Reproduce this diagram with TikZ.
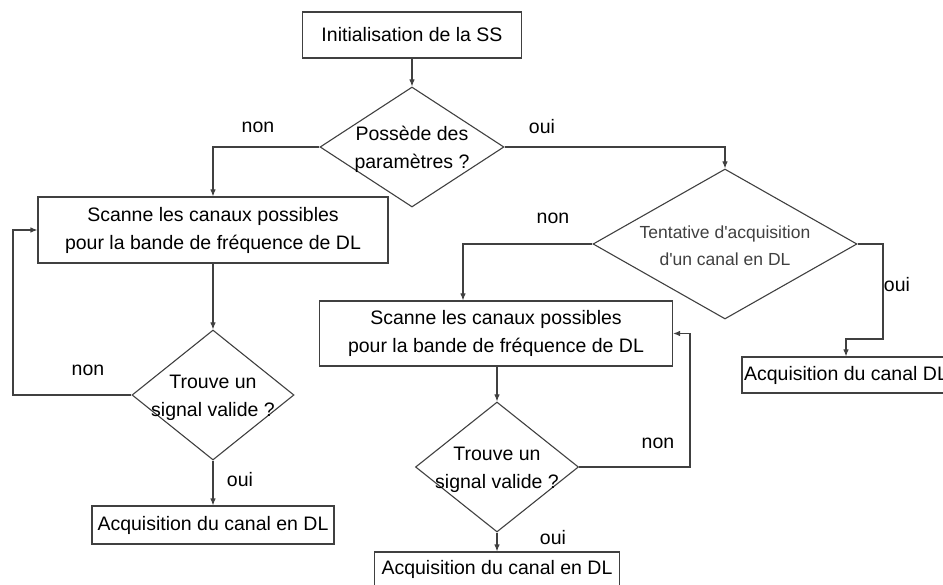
\documentclass[tikz,border=0pt]{standalone}
\usepackage{fontspec}
\setmainfont{Liberation Sans}
\usetikzlibrary{positioning,shapes.geometric,arrows.meta}

\begin{document}
\begin{tikzpicture}[x=1pt,y=-1pt,
  box/.style={draw=black!75, line width=1.1pt, rectangle, inner sep=0pt, align=center, font=\fontsize{19.5}{28}\selectfont},
  decision/.style={draw=black!75, line width=1.1pt, diamond, inner sep=0pt},
  dtext/.style={align=center, font=\fontsize{19.5}{28}\selectfont},
  lbl/.style={font=\fontsize{19.5}{24}\selectfont},
  link/.style={draw=black!75, line width=1.1pt, -{Latex[length=7pt,width=5.5pt]}}]
\clip (0,0) rectangle (943,585);
\useasboundingbox (0,0) rectangle (943,585);

% top
\node[box, minimum width=219, minimum height=46] (init) at (412,35) {Initialisation de la SS};
\node[decision, minimum width=184, minimum height=120] (poss) at (412,147) {};
\node[dtext] (posst) at (412,149) {Possède des\\paramètres ?};

% left branch
\node[box, minimum width=350, minimum height=66] (scan1) at (213,230) {Scanne les canaux possibles\\pour la bande de fréquence de DL};
\node[decision, minimum width=162, minimum height=130] (trouve1) at (213,395) {};
\node[dtext] (trouve1t) at (213,398) {Trouve un\\signal valide ?};
\node[box, minimum width=242, minimum height=38] (acq1) at (213,525) {Acquisition du canal en DL};

% right branch
\node[decision, minimum width=264, minimum height=150] (tent) at (725,244) {};
\node[dtext, font=\fontsize{17.5}{27}\selectfont, text=black!75] (tentt) at (725,246) {Tentative d\textquotesingle acquisition\\d\textquotesingle un canal en DL};
\node[box, minimum width=353, minimum height=65] (scan2) at (496,333.5) {Scanne les canaux possibles\\pour la bande de fréquence de DL};
\node[decision, minimum width=163, minimum height=130] (trouve2) at (497,467) {};
\node[dtext] (trouve2t) at (497,470) {Trouve un\\signal valide ?};
\node[box, minimum width=245, minimum height=34] (acq2) at (497,569) {Acquisition du canal en DL};
\node[box, minimum width=208, minimum height=36] (acq3) at (846,375) {Acquisition du canal DL};

% labels
\node[lbl] (non1) at (258,127) {non};
\node[lbl] (oui1) at (542,127) {oui};
\node[lbl] (non2) at (553,218) {non};
\node[lbl] (oui2) at (897,285) {oui};
\node[lbl] (non3) at (88,370) {non};
\node[lbl] (oui3) at (240,480) {oui};
\node[lbl] (non4) at (658,443) {non};
\node[lbl] (oui4) at (553,538) {oui};

\coordinate (loop1) at (13,395);
\coordinate (loop2) at (690,467);
\coordinate (bend2) at (463,244);
\coordinate (r1) at (883,244);
\coordinate (r2) at (883,339);

\draw[link] (init) -- (poss);
\draw[link] (poss.west) -| (scan1.north);
\draw[link] (poss.east) -| (tent.north);
\draw[link] (scan1) -- (trouve1);
\draw[link] (trouve1.west) -- (loop1) |- (scan1.west);
\draw[link] (trouve1) -- (acq1);
\draw[link] (tent.west) -- (bend2) -- (bend2 |- scan2.north);
\draw[link] (scan2.south -| trouve2.north) -- (trouve2.north);
\draw[link] (trouve2.east) -- (loop2) |- (scan2.east);
\draw[link] (trouve2) -- (acq2);
\draw[link] (tent.east) -- (r1) -- (r2) -| (acq3.north);
\end{tikzpicture}
\end{document}
